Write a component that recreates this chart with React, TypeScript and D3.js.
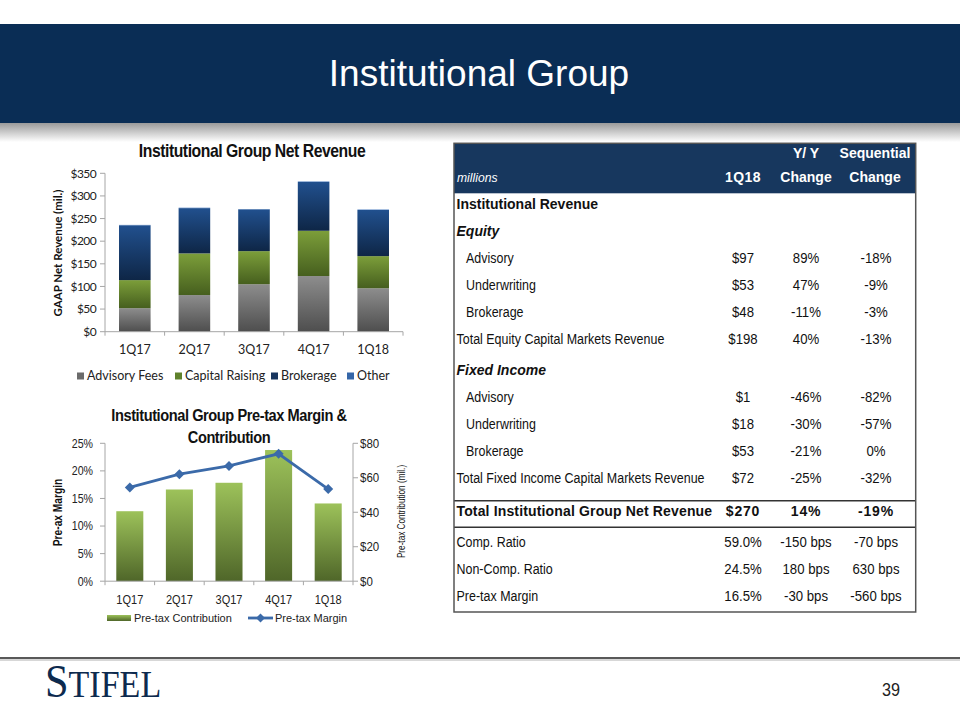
import React from 'react';
import * as d3 from 'd3';

const quarters = ['1Q17', '2Q17', '3Q17', '4Q17', '1Q18'];
const advisoryFees = [52, 81, 105, 123, 96];
const capitalRaising = [62, 92, 73, 100, 71];
const brokerageRev = [121, 100, 92, 108, 102];
const otherRev = [1, 1, 1, 1, 1];
const revenueTicks = [0, 50, 100, 150, 200, 250, 300, 350];
const revenueSeries = ['Advisory Fees', 'Capital Raising', 'Brokerage', 'Other'];

const pretaxContribution = [40.6, 53.2, 57.1, 76.1, 45.1];
const pretaxMargin = [17.0, 19.4, 20.9, 23.1, 16.7];
const marginTicks = [0, 5, 10, 15, 20, 25];
const contributionTicks = [0, 20, 40, 60, 80];

const tableLabels = [
  'Institutional Revenue', 'Equity', 'Advisory', 'Underwriting', 'Brokerage',
  'Total Equity Capital Markets Revenue', 'Fixed Income', 'Advisory', 'Underwriting', 'Brokerage',
  'Total Fixed Income Capital Markets Revenue', 'Total Institutional Group Net Revenue',
  'Comp. Ratio', 'Non-Comp. Ratio', 'Pre-tax Margin',
];
const table1Q18 = ['', '', '$97', '$53', '$48', '$198', '', '$1', '$18', '$53', '$72', '$270', '59.0%', '24.5%', '16.5%'];
const tableYY = ['', '', '89%', '47%', '-11%', '40%', '', '-46%', '-30%', '-21%', '-25%', '14%', '-150 bps', '180 bps', '-30 bps'];
const tableSeq = ['', '', '-18%', '-9%', '-3%', '-13%', '', '-82%', '-57%', '0%', '-32%', '-19%', '-70 bps', '630 bps', '-560 bps'];
const tableKinds = ['section', 'sub', 'item', 'item', 'item', 'total', 'sub', 'item', 'item', 'item', 'total', 'grand', 'ratio', 'ratio', 'ratio'];

const ARIAL = '"Liberation Sans", Arial, sans-serif';
const CAL = 'Lato, "Open Sans", sans-serif';
const AXIS = '#a6a6a6';

export default function App() {
  // ---------- Top chart ----------
  const x1 = d3.scaleBand<string>().domain(quarters).range([105, 403]).paddingInner(0.47).paddingOuter(0.235);
  const y1 = d3.scaleLinear().domain([0, 350]).range([331.7, 173.3]);
  const rows = quarters.map((q, i) => ({
    q,
    'Advisory Fees': advisoryFees[i],
    'Capital Raising': capitalRaising[i],
    Brokerage: brokerageRev[i],
    Other: otherRev[i],
  }));
  const stacked = d3.stack<any>().keys(revenueSeries)(rows);
  const fills: Record<string, string> = {
    'Advisory Fees': 'url(#gAdv)',
    'Capital Raising': 'url(#gCap)',
    Brokerage: 'url(#gBrk)',
    Other: 'url(#gOth)',
  };
  const legendColors: Record<string, string> = {
    'Advisory Fees': '#6b6b6b',
    'Capital Raising': '#5f812b',
    Brokerage: '#17355f',
    Other: '#3566a8',
  };
  const legendX1 = [77, 175, 271, 347];

  // ---------- Bottom chart ----------
  const x2 = d3.scaleBand<string>().domain(quarters).range([105, 353]).paddingInner(0.455).paddingOuter(0.2275);
  const yL = d3.scaleLinear().domain([0, 25]).range([581.2, 443.3]);
  const yR = d3.scaleLinear().domain([0, 80]).range([581.2, 443.3]);
  const line = d3
    .line<number>()
    .x((_, i) => (x2(quarters[i]) as number) + x2.bandwidth() / 2)
    .y((d) => yL(d));
  const diamond = (cx: number, cy: number, r: number) =>
    `M${cx},${cy - r}L${cx + r},${cy}L${cx},${cy + r}L${cx - r},${cy}Z`;

  // ---------- Table ----------
  const rowY = (i: number) => 209 + i * 27 + (i >= 6 ? 4 : 0) + (i >= 11 ? 6 : 0) + (i >= 12 ? 3.7 : 0);
  const colQ = 743, colYY = 806, colSeq = 876;

  return (
    <svg width={960} height={720} style={{ position: 'absolute', left: 0, top: 0, background: '#fff' }}>
      <defs>
        <linearGradient id="gAdv" x1="0" y1="0" x2="0" y2="1">
          <stop offset="0" stopColor="#8d8d8d" />
          <stop offset="1" stopColor="#4e4e4e" />
        </linearGradient>
        <linearGradient id="gCap" x1="0" y1="0" x2="0" y2="1">
          <stop offset="0" stopColor="#7c9e3a" />
          <stop offset="1" stopColor="#465f1e" />
        </linearGradient>
        <linearGradient id="gBrk" x1="0" y1="0" x2="0" y2="1">
          <stop offset="0" stopColor="#21508e" />
          <stop offset="1" stopColor="#0e2646" />
        </linearGradient>
        <linearGradient id="gOth" x1="0" y1="0" x2="0" y2="1">
          <stop offset="0" stopColor="#4a7cc0" />
          <stop offset="1" stopColor="#3566a8" />
        </linearGradient>
        <linearGradient id="gCon" x1="0" y1="0" x2="0" y2="1">
          <stop offset="0" stopColor="#9dc25a" />
          <stop offset="1" stopColor="#4f6629" />
        </linearGradient>
        <linearGradient id="gShadow" x1="0" y1="0" x2="0" y2="1">
          <stop offset="0" stopColor="#9a9a9a" />
          <stop offset="1" stopColor="#ffffff" />
        </linearGradient>
      </defs>

      {/* Header band */}
      <rect x={0} y={24} width={960} height={99} fill="#0a2d55" />
      <rect x={0} y={123} width={960} height={19} fill="url(#gShadow)" />
      <text x={479} y={86} textAnchor="middle" fill="#ffffff" fontFamily={ARIAL} fontSize={37}>
        Institutional Group
      </text>

      {/* ===== Top chart ===== */}
      <text transform="translate(252,157) scale(0.9,1)" textAnchor="middle" fontFamily={ARIAL} fontWeight="bold" fontSize={17.5} letterSpacing={-0.5} fill="#111">
        Institutional Group Net Revenue
      </text>
      {stacked.map((s) => (
        <g key={s.key}>
          {s.map((d, i) => (
            <rect
              key={i}
              x={x1(quarters[i])}
              y={y1(d[1])}
              width={x1.bandwidth()}
              height={Math.max(0, y1(d[0]) - y1(d[1]))}
              fill={fills[s.key]}
            />
          ))}
        </g>
      ))}
      <line x1={105} x2={105} y1={y1(0)} y2={y1(350)} stroke={AXIS} />
      <line x1={105} x2={403} y1={y1(0)} y2={y1(0)} stroke={AXIS} />
      {revenueTicks.map((t) => (
        <g key={t}>
          <line x1={100} x2={105} y1={y1(t)} y2={y1(t)} stroke={AXIS} />
          <text x={96} y={y1(t)} dy="0.35em" textAnchor="end" fontFamily={CAL} fontSize={12} letterSpacing={-0.6} fill="#222">
            ${t}
          </text>
        </g>
      ))}
      {d3.range(quarters.length + 1).map((i) => (
        <line key={i} x1={105 + i * x1.step()} x2={105 + i * x1.step()} y1={y1(0)} y2={y1(0) + 4} stroke={AXIS} />
      ))}
      {quarters.map((q) => (
        <text key={q} x={(x1(q) as number) + x1.bandwidth() / 2} y={350} dy="0.35em" textAnchor="middle" fontFamily={CAL} fontSize={12.5} fill="#222">
          {q}
        </text>
      ))}
      <text transform="translate(58,253) rotate(-90)" textAnchor="middle" dy="0.35em" fontFamily={CAL} fontWeight="bold" fontSize={11.5} fill="#111">
        GAAP Net Revenue (mil.)
      </text>
      {revenueSeries.map((k, i) => (
        <g key={k}>
          <rect x={legendX1[i]} y={372.5} width={7} height={7} fill={legendColors[k]} />
          <text x={legendX1[i] + 10} y={376} dy="0.35em" fontFamily={CAL} fontSize={12.5} fill="#222">
            {k}
          </text>
        </g>
      ))}

      {/* ===== Bottom chart ===== */}
      <text transform="translate(229,421) scale(0.86,1)" textAnchor="middle" fontFamily={ARIAL} fontWeight="bold" fontSize={17} letterSpacing={-0.5} fill="#111">
        Institutional Group Pre-tax Margin &amp;
      </text>
      <text transform="translate(229,443) scale(0.86,1)" textAnchor="middle" fontFamily={ARIAL} fontWeight="bold" fontSize={17} letterSpacing={-0.5} fill="#111">
        Contribution
      </text>
      {pretaxContribution.map((v, i) => (
        <rect key={i} x={x2(quarters[i])} y={yR(v)} width={x2.bandwidth()} height={yR(0) - yR(v)} fill="url(#gCon)" />
      ))}
      <line x1={105} x2={105} y1={yL(0)} y2={yL(25)} stroke={AXIS} />
      <line x1={353} x2={353} y1={yR(0)} y2={yR(80)} stroke={AXIS} />
      <line x1={105} x2={353} y1={yL(0)} y2={yL(0)} stroke={AXIS} />
      {marginTicks.map((t) => (
        <g key={t}>
          <line x1={100} x2={105} y1={yL(t)} y2={yL(t)} stroke={AXIS} />
          <text transform={`translate(93,${yL(t)}) scale(0.85,1)`} dy="0.35em" textAnchor="end" fontFamily={ARIAL} fontSize={12.5} fill="#222">
            {t}%
          </text>
        </g>
      ))}
      {contributionTicks.map((t) => (
        <g key={t}>
          <line x1={353} x2={358} y1={yR(t)} y2={yR(t)} stroke={AXIS} />
          <text transform={`translate(360,${yR(t)}) scale(0.92,1)`} dy="0.35em" textAnchor="start" fontFamily={ARIAL} fontSize={12.5} fill="#222">
            ${t}
          </text>
        </g>
      ))}
      {d3.range(quarters.length + 1).map((i) => (
        <line key={i} x1={105 + i * x2.step()} x2={105 + i * x2.step()} y1={yL(0)} y2={yL(0) + 4} stroke={AXIS} />
      ))}
      {quarters.map((q) => (
        <text key={q} transform={`translate(${(x2(q) as number) + x2.bandwidth() / 2},600) scale(0.88,1)`} dy="0.35em" textAnchor="middle" fontFamily={ARIAL} fontSize={12.5} fill="#222">
          {q}
        </text>
      ))}
      <path d={line(pretaxMargin) as string} fill="none" stroke="#3b6aa9" strokeWidth={2.8} />
      {pretaxMargin.map((m, i) => (
        <path key={i} d={diamond((x2(quarters[i]) as number) + x2.bandwidth() / 2, yL(m), 5)} fill="#3b6aa9" />
      ))}
      <text transform="translate(58,512.5) rotate(-90) scale(0.85,1)" textAnchor="middle" dy="0.35em" fontFamily={ARIAL} fontWeight="bold" fontSize={12} fill="#111">
        Pre-ax Margin
      </text>
      <text transform="translate(401,511.5) rotate(-90) scale(0.78,1)" textAnchor="middle" dy="0.35em" fontFamily={ARIAL} fontSize={10.5} fill="#111">
        Pre-tax Contribution (mil.)
      </text>
      <rect x={107} y={615} width={24} height={6} fill="url(#gCon)" />
      <text x={134} y={618} dy="0.35em" fontFamily={ARIAL} fontSize={11} fill="#222">
        Pre-tax Contribution
      </text>
      <line x1={248} x2={273} y1={618} y2={618} stroke="#3b6aa9" strokeWidth={2.8} />
      <path d={diamond(260.5, 618, 4.5)} fill="#3b6aa9" />
      <text x={275} y={618} dy="0.35em" fontFamily={ARIAL} fontSize={11} fill="#222">
        Pre-tax Margin
      </text>

      {/* ===== Table ===== */}
      <rect x={454} y={143.3} width={461.7} height={50} fill="#17375e" />
      <g fontFamily={ARIAL} fontWeight="bold" fontSize={14} fill="#ffffff" textAnchor="middle">
        <text x={colYY} y={158}>Y/ Y</text>
        <text x={colSeq - 1} y={158}>Sequential</text>
        <text x={colQ} y={182} letterSpacing={0.5}>1Q18</text>
        <text x={colYY} y={182}>Change</text>
        <text x={colSeq - 1} y={182}>Change</text>
      </g>
      <text transform="translate(457,181.5) scale(0.9,1)" fontFamily={ARIAL} fontStyle="italic" fontSize={13.5} fill="#ffffff">
        millions
      </text>
      {tableLabels.map((lab, i) => {
        const kind = tableKinds[i];
        const bold = kind === 'section' || kind === 'sub' || kind === 'grand';
        const italic = kind === 'sub';
        const indent = kind === 'item' ? 466 : 456.5;
        const y = rowY(i);
        const grand = kind === 'grand';
        const numProps = grand
          ? { fontSize: 14, fontWeight: 'bold', letterSpacing: 0.8 }
          : { fontSize: 14.5, fontWeight: 'normal', letterSpacing: 0 };
        const numScale = grand ? 1 : 0.91;
        return (
          <g key={i} fontFamily={ARIAL} fill="#111">
            {bold ? (
              <text x={indent} y={y} fontSize={14} fontWeight="bold" fontStyle={italic ? 'italic' : 'normal'} letterSpacing={grand ? 0.15 : 0}>
                {lab}
              </text>
            ) : (
              <text transform={`translate(${indent},${y}) scale(0.86,1)`} fontSize={14.5}>
                {lab}
              </text>
            )}
            <text transform={`translate(${colQ},${y}) scale(${numScale},1)`} textAnchor="middle" {...numProps}>
              {table1Q18[i]}
            </text>
            <text transform={`translate(${colYY},${y}) scale(${numScale},1)`} textAnchor="middle" {...numProps}>
              {tableYY[i]}
            </text>
            <text transform={`translate(${colSeq},${y}) scale(${numScale},1)`} textAnchor="middle" {...numProps}>
              {tableSeq[i]}
            </text>
          </g>
        );
      })}
      <line x1={454} x2={915.7} y1={500.7} y2={500.7} stroke="#333" strokeWidth={1.5} />
      <line x1={454} x2={915.7} y1={527.3} y2={527.3} stroke="#333" strokeWidth={1.5} />
      <rect x={454} y={143.3} width={461.7} height={468.7} fill="none" stroke="#555" strokeWidth={1.5} />

      {/* ===== Footer ===== */}
      <line x1={0} x2={960} y1={658} y2={658} stroke="#222" strokeWidth={1.5} />
      <line x1={0} x2={960} y1={660} y2={660} stroke="#b0b0b0" strokeWidth={1} />
      <text transform="translate(45,697) scale(0.92,1)" fontFamily='"Liberation Serif", "DejaVu Serif", serif' fill="#0d2a4e">
        <tspan fontSize={46}>S</tspan>
        <tspan fontSize={37}>TIFEL</tspan>
      </text>
      <text transform="translate(882,696) scale(0.9,1)" fontFamily={ARIAL} fontSize={18} fill="#222">
        39
      </text>
    </svg>
  );
}
